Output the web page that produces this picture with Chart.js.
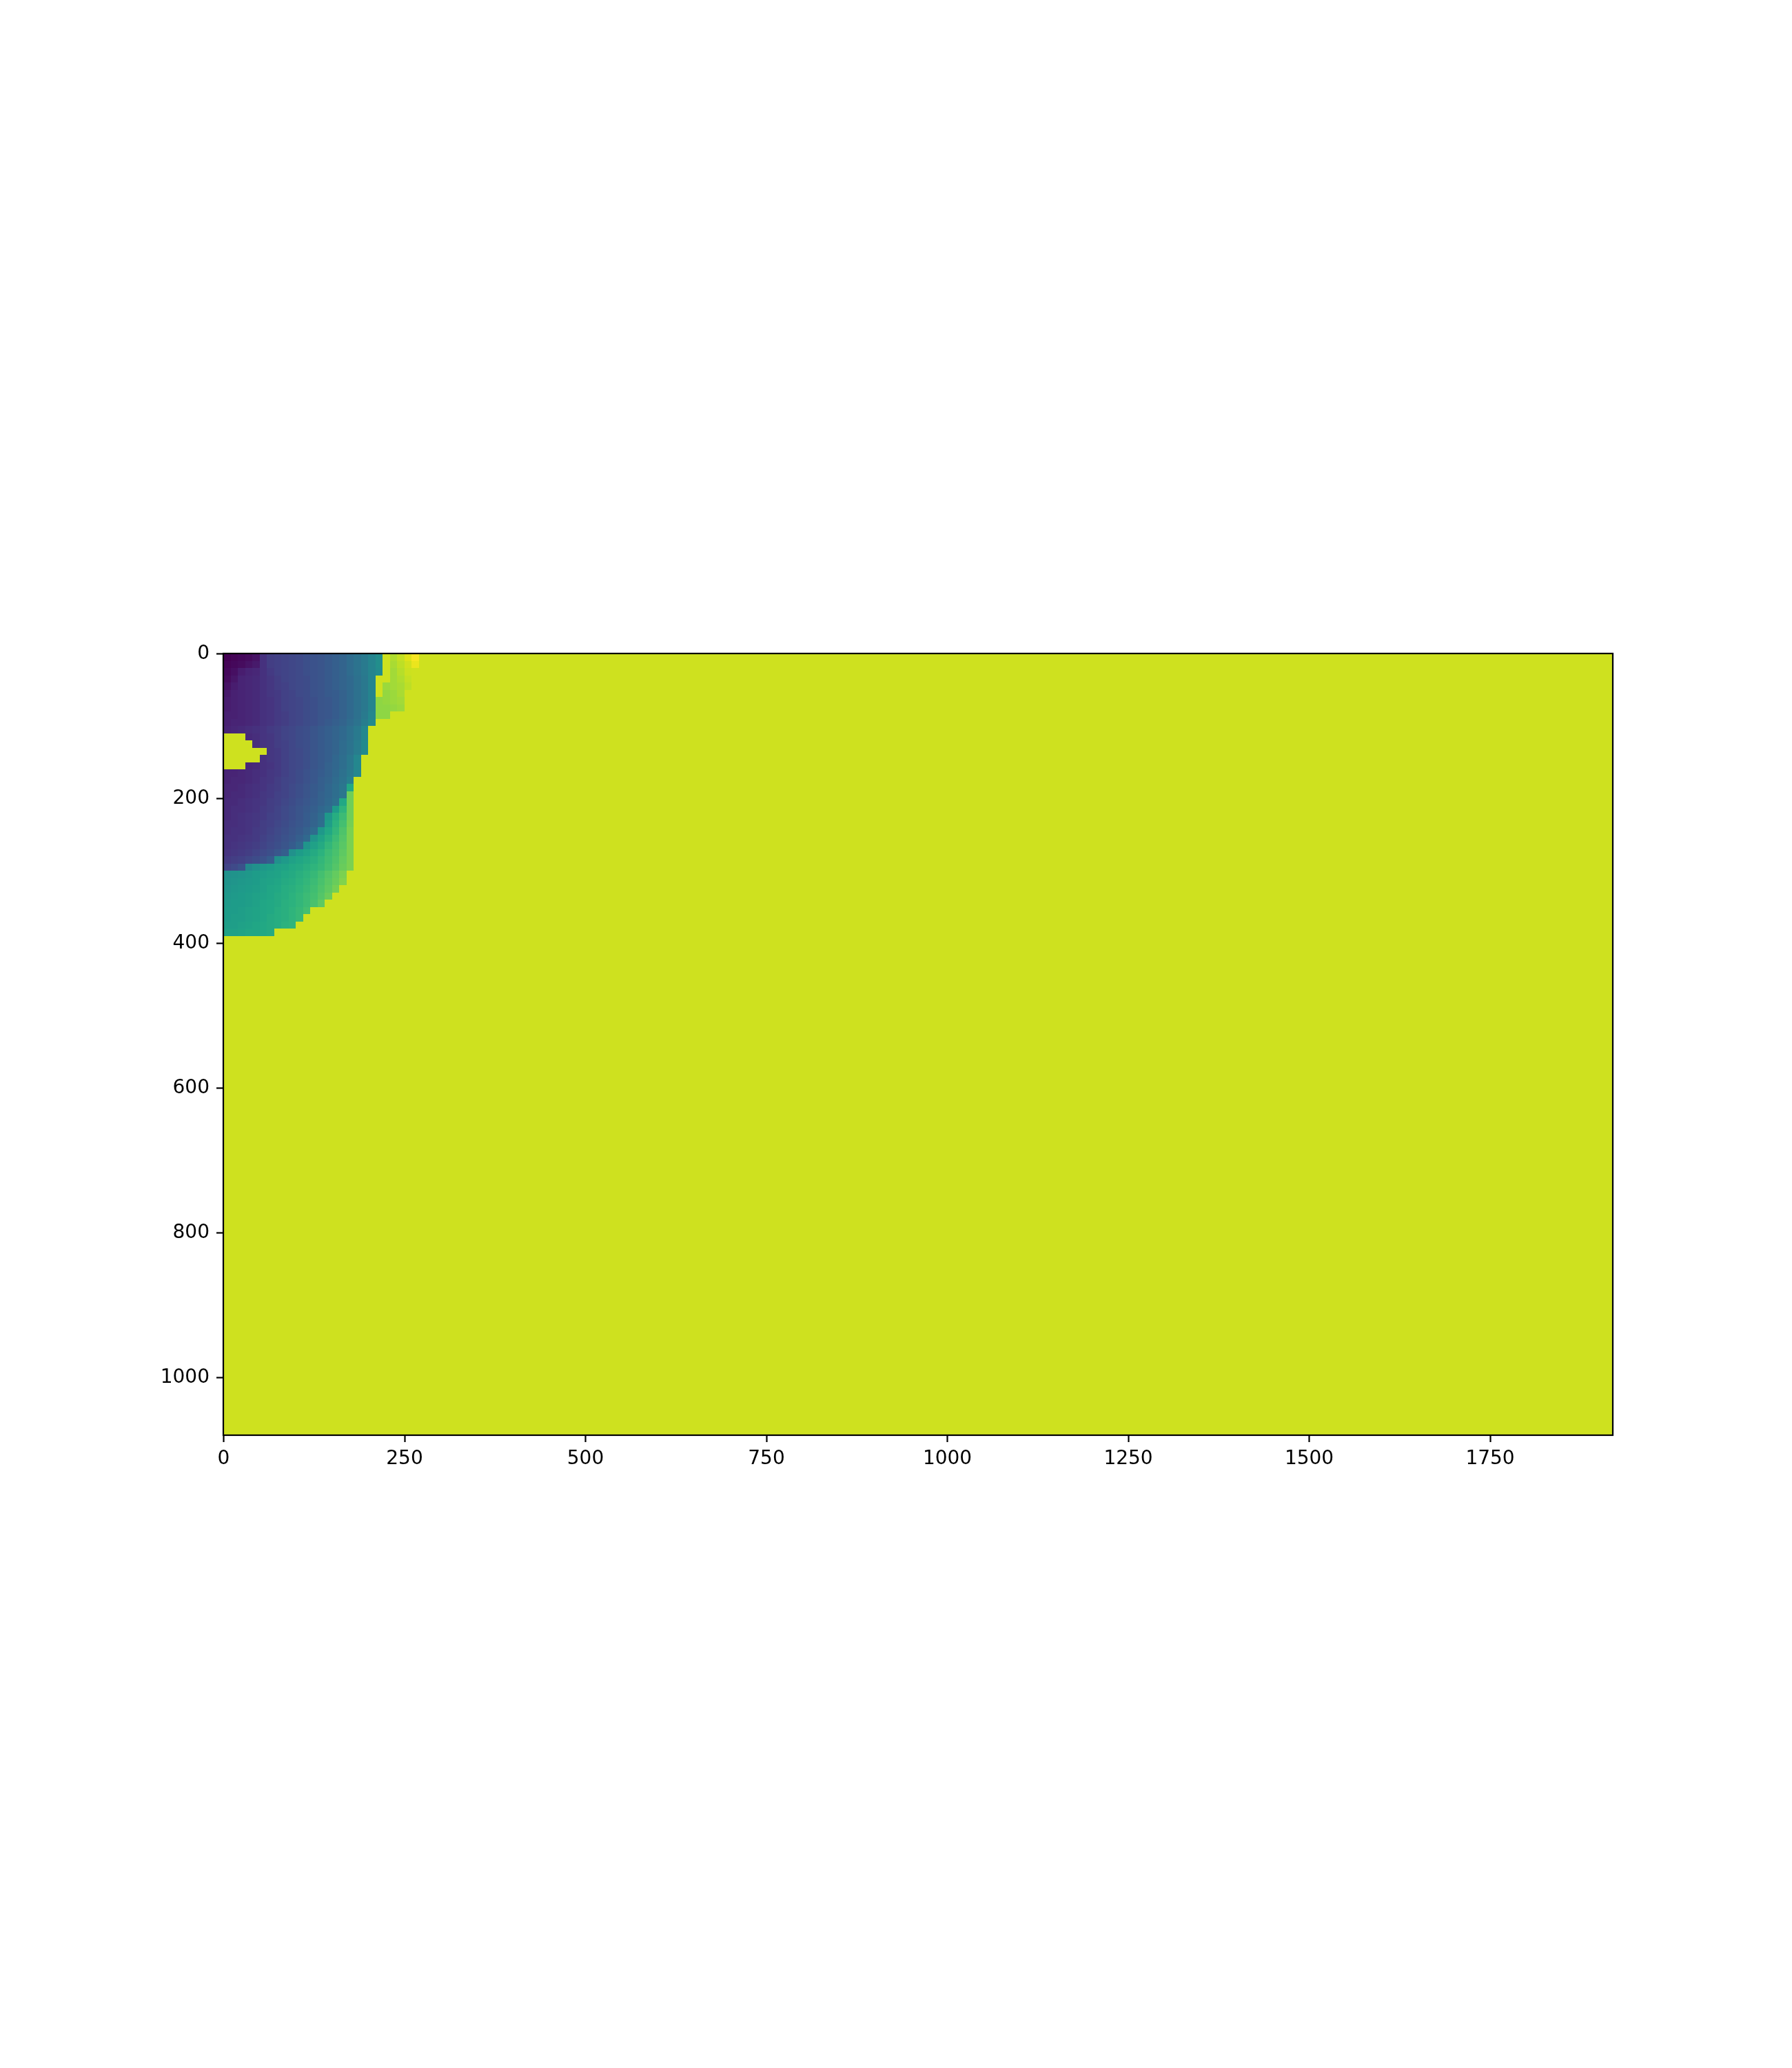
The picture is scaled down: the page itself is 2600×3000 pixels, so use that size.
<!DOCTYPE html>
<html lang="en">
<head>
<meta charset="UTF-8">
<title>Depth map</title>
<style>
  body { margin: 0; background: #fff; }
  #depthChart { display: block; }
</style>
</head>
<body>
<canvas id="depthChart" width="2600" height="3000" style="width:2600px;height:3000px"></canvas>
<script src="https://cdn.jsdelivr.net/npm/chart.js"></script>
<script>
// image size in pixels, cell size of the sampled grid
const imageWidth = 1920;
const imageHeight = 1080;
const cellSize = 10;
const backgroundValue = 0.925;

const xTicks = [0, 250, 500, 750, 1000, 1250, 1500, 1750];
const yTicks = [0, 200, 400, 600, 800, 1000];

// depth values x100, one row per 10 px, ".." = background; missing columns = background
const depthRows = [
    "00 01 02 03 05 14 18 19 20 21 22 24 25 26 28 30 32 35 38 41 45 49 .. 88 91 95 99",
    "01 02 03 05 07 14 18 19 20 21 22 24 25 26 28 30 32 35 38 41 45 49 .. 87 90 93 97",
    "02 04 08 10 11 14 17 19 20 21 22 24 25 26 28 30 32 35 38 41 45 48 .. 86 89 92",
    "03 06 10 11 12 14 16 18 20 21 22 23 25 26 28 30 32 34 37 40 45 .. .. 86 88 91",
    "05 08 10 11 12 14 16 18 19 21 22 23 25 26 28 30 32 34 37 40 45 .. 85 86 87 90",
    "07 09 10 11 12 14 16 17 19 20 22 23 25 26 28 29 31 34 37 40 45 .. 84 85 87",
    "08 09 10 11 12 14 15 17 19 20 21 23 24 26 27 29 31 34 37 40 45 83 84 85 86",
    "08 09 10 11 12 14 15 17 19 20 21 23 24 26 27 29 31 34 37 40 45 83 83 84 85",
    "09 09 10 11 12 14 15 17 18 20 21 23 24 26 27 29 31 34 37 41 46 83 83",
    "09 10 10 11 12 14 15 17 18 20 21 23 24 26 28 30 32 35 38 42 47",
    "10 11 12 13 14 15 17 18 20 21 23 24 26 28 30 32 34 37 41 46",
    ".. .. .. 12 13 15 16 18 20 21 23 24 26 28 30 32 34 37 41 46",
    ".. .. .. .. 13 15 16 18 19 21 23 24 26 28 30 32 35 38 42 47",
    ".. .. .. .. .. .. 16 17 19 21 22 24 26 28 30 32 35 38 42 47",
    ".. .. .. .. .. 14 16 17 19 21 22 24 26 28 30 33 36 40 46",
    ".. .. .. 11 12 14 15 17 19 21 22 24 26 28 31 33 36 40 46",
    "10 10 11 12 13 14 16 17 19 21 23 25 27 29 31 34 37 41 46",
    "10 11 11 12 13 15 16 18 20 21 23 25 27 30 32 35 38 43",
    "11 11 12 13 14 15 17 18 20 22 24 26 28 30 33 36 39 60",
    "11 12 12 13 14 16 17 19 20 22 24 26 28 31 33 36 39 78",
    "12 12 13 14 15 16 18 19 21 23 25 27 29 31 34 37 60 78",
    "12 13 13 14 15 17 18 20 22 24 26 28 30 33 36 55 65 78",
    "12 13 14 15 16 17 19 20 22 24 26 29 31 35 53 62 68 78",
    "13 13 14 15 16 18 19 21 23 25 27 29 32 36 56 64 70 79",
    "13 14 14 15 17 18 20 22 24 26 28 31 35 53 60 66 72 80",
    "14 14 15 16 17 19 21 23 25 27 30 34 52 58 63 68 73 80",
    "14 15 16 17 18 20 22 24 26 29 33 52 57 61 66 70 74 80",
    "15 16 17 18 20 22 24 27 30 50 55 58 61 64 68 71 75 80",
    "17 18 19 21 23 25 29 50 54 57 59 61 63 66 69 72 76 80",
    "20 22 25 47 50 53 55 57 58 60 61 63 65 67 70 73 77 80",
    "50 51 52 53 55 56 57 58 60 61 63 65 67 70 73 76 80",
    "51 52 53 54 55 57 58 59 61 62 64 66 68 71 74 77 81",
    "52 53 54 55 56 57 59 60 62 63 65 67 69 72 75 79",
    "53 54 55 56 57 58 59 61 62 64 66 68 70 73 77",
    "54 55 55 56 57 59 60 61 63 64 66 68 71 75",
    "55 55 56 57 58 59 60 62 63 65 67 70",
    "55 56 56 57 58 59 61 62 63 65 67",
    "56 56 57 58 59 60 61 62 64 65",
    "57 57 58 59 59 60 61"
];

// viridis sampled every 0.05
const viridisStops = [
    '#440154', '#471365', '#482475', '#463480', '#414487', '#3b528b', '#355f8d',
    '#2f6c8e', '#2a788e', '#25848e', '#21918c', '#1e9c89', '#22a884', '#2fb47c',
    '#44bf70', '#5ec962', '#7ad151', '#9bd93c', '#bddf26', '#dfe318', '#fde725'
].map(h => [1, 3, 5].map(i => parseInt(h.substr(i, 2), 16)));

function viridis(t) {
    t = Math.max(0, Math.min(1, t));
    const n = viridisStops.length - 1;
    const p = t * n;
    const i = Math.min(n - 1, Math.floor(p));
    const f = p - i;
    const a = viridisStops[i], b = viridisStops[i + 1];
    const c = a.map((v, k) => Math.round(v + (b[k] - v) * f));
    return `rgb(${c[0]},${c[1]},${c[2]})`;
}

// whole frame as one background cell, then the sampled cells on top
const cells = [{ x: 0, y: 0, w: imageWidth, h: imageHeight, v: backgroundValue }];
depthRows.forEach((row, r) => {
    row.split(' ').forEach((tok, c) => {
        if (tok === '..') return;
        cells.push({ x: c * cellSize, y: r * cellSize, w: cellSize, h: cellSize, v: Number(tok) / 100 });
    });
});

const imagePlugin = {
    id: 'depthImage',
    beforeDatasetsDraw(chart) {
        const { ctx, chartArea, scales: { x, y } } = chart;
        ctx.save();
        ctx.beginPath();
        ctx.rect(chartArea.left, chartArea.top, chartArea.width, chartArea.height);
        ctx.clip();
        chart.data.datasets[0].data.forEach(cell => {
            const x0 = Math.round(x.getPixelForValue(cell.x - 0.5));
            const x1 = Math.round(x.getPixelForValue(cell.x + cell.w - 0.5));
            const y0 = Math.round(y.getPixelForValue(cell.y - 0.5));
            const y1 = Math.round(y.getPixelForValue(cell.y + cell.h - 0.5));
            ctx.fillStyle = viridis(cell.v);
            ctx.fillRect(x0, y0, x1 - x0, y1 - y0);
        });
        ctx.restore();
    },
    afterDraw(chart) {
        const { ctx, chartArea } = chart;
        ctx.save();
        ctx.strokeStyle = '#000';
        ctx.lineWidth = 2.2;
        ctx.strokeRect(chartArea.left, chartArea.top, chartArea.width, chartArea.height);
        ctx.restore();
    }
};

Chart.defaults.font.family = "'DejaVu Sans', sans-serif";
Chart.defaults.font.size = 28;
Chart.defaults.color = '#000';

new Chart(document.getElementById('depthChart'), {
    type: 'scatter',
    data: {
        datasets: [{
            label: 'depth',
            data: cells,
            pointRadius: 0,
            pointHoverRadius: 0
        }]
    },
    options: {
        responsive: false,
        devicePixelRatio: 1,
        animation: false,
        events: [],
        layout: { padding: { top: 948, right: 260, left: 0, bottom: 0 } },
        plugins: { legend: { display: false }, tooltip: { enabled: false } },
        scales: {
            x: {
                type: 'linear',
                min: -0.5,
                max: imageWidth - 0.5,
                afterFit: s => { s.height = 918; },
                afterBuildTicks: s => { s.ticks = xTicks.map(v => ({ value: v })); },
                border: { display: false },
                grid: { drawOnChartArea: false, drawTicks: true, tickLength: 10, tickWidth: 2.2, tickColor: '#000' },
                ticks: { padding: 8, maxRotation: 0, autoSkip: false, callback: v => String(v) }
            },
            y: {
                type: 'linear',
                reverse: true,
                min: -0.5,
                max: imageHeight - 0.5,
                afterFit: s => { s.width = 324; },
                afterBuildTicks: s => { s.ticks = yTicks.map(v => ({ value: v })); },
                border: { display: false },
                grid: { drawOnChartArea: false, drawTicks: true, tickLength: 10, tickWidth: 2.2, tickColor: '#000' },
                ticks: { padding: 10, autoSkip: false, callback: v => String(v) }
            }
        }
    },
    plugins: [imagePlugin]
});
</script>
</body>
</html>
